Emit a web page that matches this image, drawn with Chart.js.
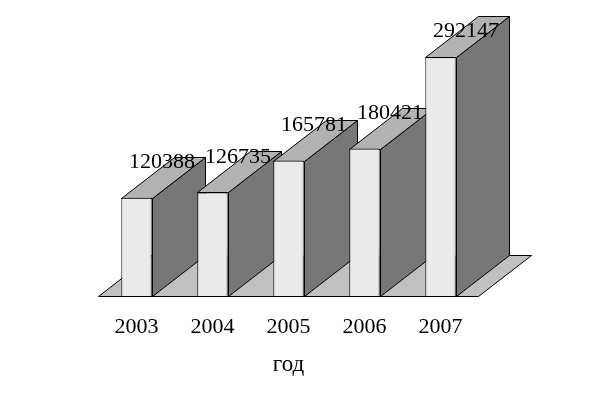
<!DOCTYPE html>
<html>
<head>
<meta charset="utf-8">
<style>html,body{margin:0;padding:0;background:#fff}canvas{display:block}</style>
<script src="https://cdn.jsdelivr.net/npm/chart.js@4"></script>
</head>
<body>
<canvas id="c" width="616" height="393"></canvas>
<script>
const categories = ["2003", "2004", "2005", "2006", "2007"];
const values = [120388, 126735, 165781, 180421, 292147];
const axisTitle = "год";

const DEPTH_X = 53, DEPTH_Y = -41;
const FONT = '22px "Liberation Serif"';

function poly(ctx, pts, fill, stroke) {
  ctx.beginPath();
  pts.forEach((p, i) => i ? ctx.lineTo(p[0], p[1]) : ctx.moveTo(p[0], p[1]));
  ctx.closePath();
  ctx.fillStyle = fill;
  ctx.fill();
  if (stroke) { ctx.strokeStyle = stroke; ctx.lineWidth = 1; ctx.stroke(); }
}

const box3d = {
  id: "box3d",
  beforeDatasetsDraw(chart) {
    const { ctx, chartArea: a, scales: { y } } = chart;
    const base = Math.round(y.getPixelForValue(0)) + 0.5;
    const meta = chart.getDatasetMeta(0);
    ctx.save();
    poly(ctx, [[a.left, base], [a.right, base], [a.right + DEPTH_X, base + DEPTH_Y], [a.left + DEPTH_X, base + DEPTH_Y]], "#c0c0c0", null);
    ctx.strokeStyle = "#000";
    ctx.lineWidth = 1;
    ctx.beginPath();
    ctx.moveTo(a.left + DEPTH_X, base + DEPTH_Y);
    ctx.lineTo(a.left, base);
    ctx.moveTo(a.right, base);
    ctx.lineTo(a.right + DEPTH_X, base + DEPTH_Y);
    ctx.lineTo(a.right, base + DEPTH_Y);
    ctx.stroke();
    meta.data.forEach((bar) => {
      const half = bar.width / 2;
      const l = Math.round(bar.x - half) + 0.5, r = Math.round(bar.x + half) + 0.5, t = Math.round(bar.y) + 0.5;
      poly(ctx, [[r, t], [r + DEPTH_X, t + DEPTH_Y], [r + DEPTH_X, base + DEPTH_Y], [r, base]], "#777777", "#000");
      poly(ctx, [[l, t], [r, t], [r + DEPTH_X, t + DEPTH_Y], [l + DEPTH_X, t + DEPTH_Y]], "#b2b2b2", "#000");
    });
    ctx.restore();
  },
  afterDatasetsDraw(chart) {
    const { ctx } = chart;
    const meta = chart.getDatasetMeta(0);
    ctx.save();
    ctx.font = FONT;
    ctx.fillStyle = "#000";
    ctx.textAlign = "center";
    ctx.textBaseline = "middle";
    meta.data.forEach((bar, i) => {
      ctx.fillText(String(values[i]), bar.x + 25.5, Math.max(bar.y - 35.5, 31));
    });
    const base = chart.scales.y.getPixelForValue(0);
    ctx.strokeStyle = "#000";
    ctx.lineWidth = 1;
    ctx.beginPath();
    ctx.moveTo(chart.chartArea.left, Math.round(base) + 0.5);
    ctx.lineTo(chart.chartArea.right, Math.round(base) + 0.5);
    ctx.stroke();
    ctx.restore();
  }
};

new Chart(document.getElementById("c"), {
  type: "bar",
  data: {
    labels: categories,
    datasets: [{
      data: values,
      backgroundColor: "#eaeaea",
      borderColor: "#000",
      borderWidth: 1,
      barPercentage: 0.4,
      categoryPercentage: 1
    }]
  },
  options: {
    responsive: false,
    animation: false,
    layout: { padding: { left: 98.5, right: 137.5, top: 10, bottom: 14 } },
    plugins: { legend: { display: false }, tooltip: { enabled: false } },
    scales: {
      y: { display: false, min: 0, max: 350000 },
      x: {
        grid: { display: false },
        border: { display: false },
        ticks: { color: "#000", font: { family: "Liberation Serif", size: 22 }, padding: 10, maxRotation: 0 },
        title: { display: true, text: axisTitle, color: "#000", font: { family: "Liberation Serif", size: 23 }, padding: { top: 1, bottom: 0 } }
      }
    }
  },
  plugins: [box3d]
});
</script>
</body>
</html>
